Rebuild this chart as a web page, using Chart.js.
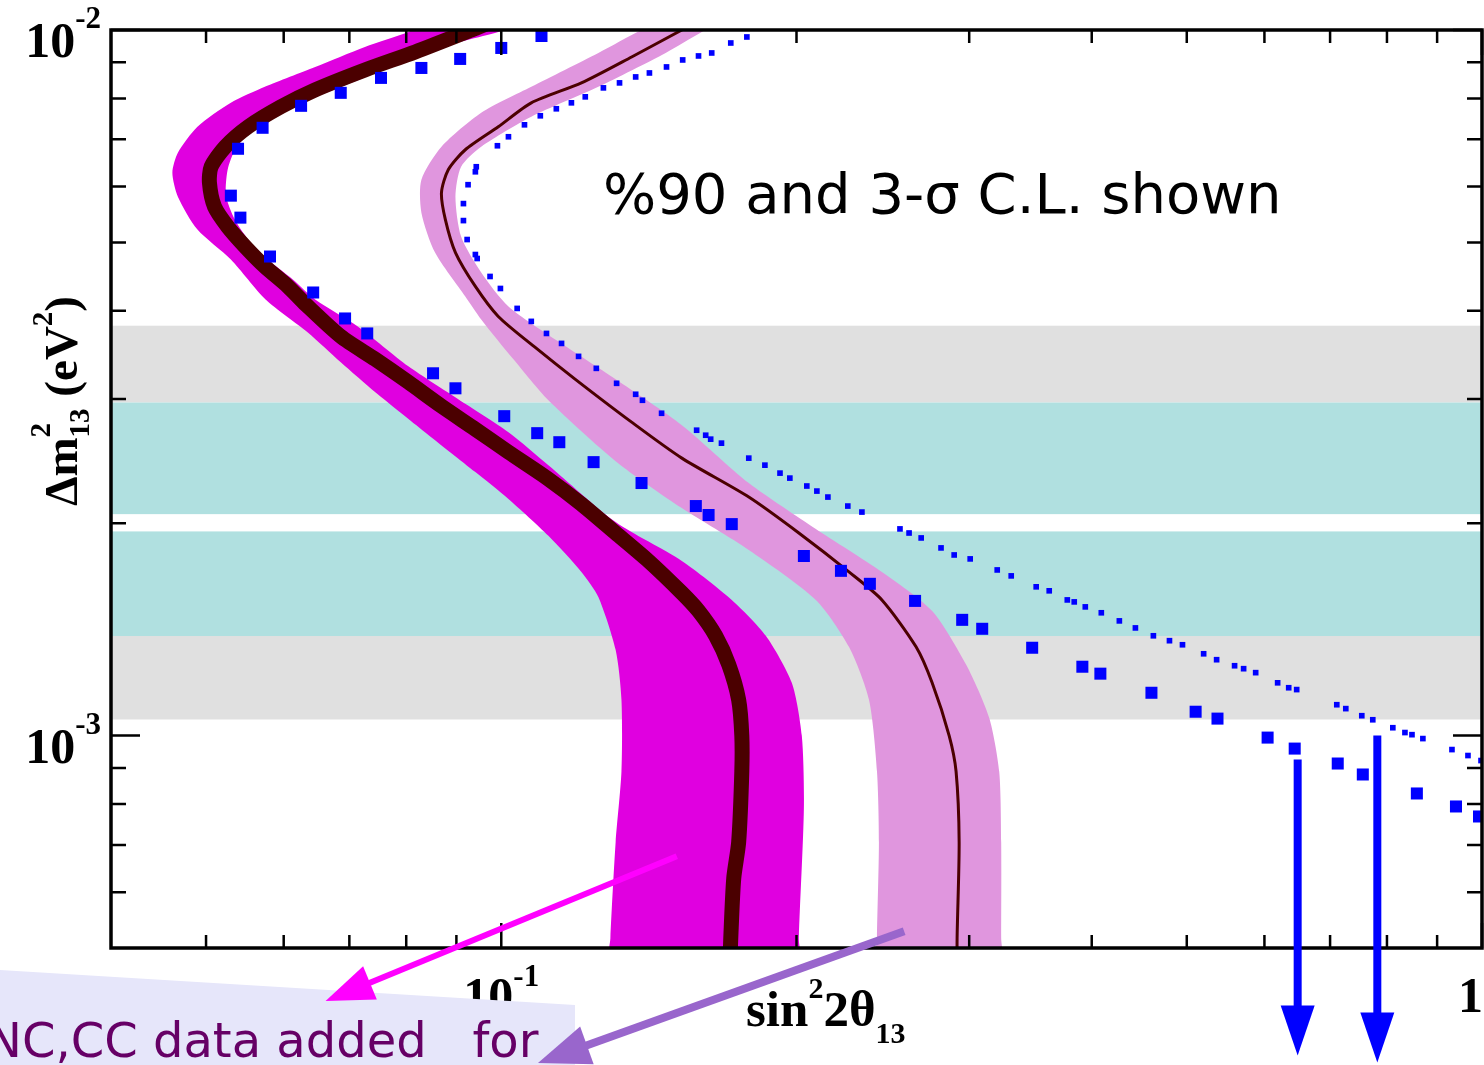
<!DOCTYPE html>
<html><head><meta charset="utf-8">
<script src="https://cdn.jsdelivr.net/npm/chart.js@4.4.0/dist/chart.umd.min.js"></script>
<style>html,body{margin:0;padding:0;background:#fff;overflow:hidden}canvas{display:block}</style>
</head><body><canvas id="c" width="1484" height="1065" style="width:1484px;height:1065px"></canvas>
<script>
// ---------- axis ranges & ticks ----------
const xRange = [0.04, 1];
const yRange = [5e-4, 1e-2];
const xMajorTicks = [0.1, 1];
const xMinorTicks = [0.05,0.06,0.07,0.08,0.09,0.2,0.3,0.4,0.5,0.6,0.7,0.8,0.9];
const yMajorTicks = [1e-3, 1e-2];
const yMinorTicks = [6e-4,7e-4,8e-4,9e-4,2e-3,3e-3,4e-3,5e-3,6e-3,7e-3,8e-3,9e-3];
const xTickLabels = [[0.1,'10','-1'],[1,'1','']];
const yTickLabels = [[1e-2,'10','-2'],[1e-3,'10','-3']];

// ---------- horizontal bands (Δm² ranges) ----------
const grayBands = [[2.965e-3,3.81e-3],[1.054e-3,1.384e-3]];
const cyanBands = [[2.06e-3,2.965e-3],[1.384e-3,1.947e-3]];

// ---------- 3-sigma region (magenta) & its best line ----------
const magentaOuter = [[0.0842,0.01026],[0.0804,0.009935],[0.0726,0.009461],[0.0646,0.008864],[0.0574,0.008307],[0.0530,0.007885],[0.0490,0.007292],[0.0468,0.006699],[0.0462,0.006276],[0.0468,0.005805],[0.0490,0.005213],[0.0530,0.004728],[0.0575,0.004151],[0.0635,0.003727],[0.0686,0.003381],[0.0744,0.003066],[0.0836,0.002692],[0.0941,0.002363],[0.1017,0.002164],[0.1117,0.001919],[0.1207,0.001706],[0.1256,0.001572],[0.1308,0.001323],[0.1326,0.001124],[0.1326,0.0008894],[0.1308,0.000706],[0.1292,0.0005162],[0.1289,0.00045]];
const magentaInner = [[0.1041,0.01016],[0.0993,0.009935],[0.0848,0.009369],[0.0723,0.008553],[0.0616,0.007808],[0.0561,0.007268],[0.0536,0.006787],[0.0526,0.006338],[0.0524,0.005824],[0.0535,0.005386],[0.0552,0.005047],[0.0578,0.004728],[0.0613,0.00443],[0.0646,0.004151],[0.0714,0.003801],[0.0804,0.003337],[0.0904,0.002997],[0.1017,0.002692],[0.1117,0.002417],[0.1308,0.002007],[0.1528,0.001768],[0.1718,0.001557],[0.1861,0.001385],[0.1978,0.001188],[0.2025,0.001],[0.2035,0.000791],[0.2011,0.0005162],[0.2011,0.00045]];
const magentaLine = [[0.0970,0.01023],[0.0932,0.0100],[0.0817,0.00931],[0.0726,0.008778],[0.0646,0.008226],[0.0596,0.007783],[0.0552,0.007292],[0.0523,0.006831],[0.0506,0.0064],[0.0504,0.006075],[0.0510,0.005619],[0.0526,0.005265],[0.0548,0.004933],[0.0574,0.004622],[0.0606,0.004331],[0.0632,0.004083],[0.0686,0.003679],[0.0744,0.003414],[0.0804,0.003168],[0.0869,0.00293],[0.0941,0.002718],[0.1017,0.002522],[0.1117,0.00231],[0.1207,0.002129],[0.1308,0.001937],[0.1413,0.001768],[0.1528,0.001593],[0.1589,0.001502],[0.1654,0.001385],[0.1706,0.00126],[0.1746,0.001124],[0.1759,0.001],[0.1759,0.0008894],[0.1746,0.000706],[0.1726,0.0006277],[0.1714,0.0005162],[0.1708,0.00045]];

// ---------- 90% region (light pink) & its best line ----------
const pinkOuter = [[0.1447,0.0102],[0.1390,0.0100],[0.1256,0.009278],[0.1073,0.008307],[0.0954,0.007632],[0.0869,0.006831],[0.0829,0.006135],[0.0829,0.00551],[0.0856,0.004837],[0.0919,0.004192],[0.0954,0.003889],[0.1029,0.003414],[0.1117,0.002987],[0.1308,0.002449],[0.1528,0.002101],[0.1788,0.001833],[0.2093,0.001557],[0.2262,0.001336],[0.2371,0.001124],[0.2416,0.0008894],[0.2427,0.000706],[0.2416,0.0005162],[0.2416,0.00045]];
const pinkInner = [[0.1647,0.01013],[0.1601,0.009935],[0.1471,0.009278],[0.1256,0.008307],[0.1073,0.007533],[0.0954,0.006831],[0.0910,0.0064],[0.0898,0.005805],[0.0910,0.005096],[0.0954,0.004532],[0.1017,0.004057],[0.1143,0.00362],[0.1308,0.003198],[0.1528,0.002754],[0.1788,0.00228],[0.2093,0.001963],[0.2444,0.001706],[0.2750,0.001502],[0.2979,0.00126],[0.3144,0.00106],[0.3219,0.0008894],[0.3234,0.000706],[0.3234,0.0005162],[0.3234,0.00045]];
const pinkLine = [[0.1553,0.0101],[0.1528,0.0100],[0.1358,0.009158],[0.1207,0.008415],[0.1073,0.007885],[0.0993,0.007292],[0.0919,0.006765],[0.0883,0.006338],[0.0869,0.005881],[0.0877,0.005386],[0.0898,0.004837],[0.0941,0.004331],[0.0993,0.003927],[0.1083,0.003549],[0.1190,0.003198],[0.1358,0.002781],[0.1528,0.002473],[0.1788,0.002178],[0.2011,0.001937],[0.2262,0.001706],[0.2444,0.001557],[0.2648,0.001336],[0.2750,0.001188],[0.2862,0.001],[0.2909,0.0008894],[0.2930,0.000706],[0.2916,0.0005162],[0.2916,0.00045]];

// ---------- blue square markers ----------
const squareX = [0.1099,0.1000,0.0908,0.0829,0.0754,0.0686,0.0625,0.0571,0.0539,0.0530,0.0542,0.0581,0.0643,0.0693,0.0730,0.0852,0.0898,0.1007,0.1088,0.1146,0.1242,0.1390,0.1579,0.1627,0.1718,0.2035,0.2220,0.2376,0.2642,0.2951,0.3093,0.3478,0.3913,0.4082,0.4602,0.5105,0.5374,0.6045,0.6442,0.7127,0.7559,0.8582,0.9407,0.9930];
const squareY = [9.806e-3,9.431e-3,9.099e-3,8.835e-3,8.553e-3,8.146e-3,7.808e-3,7.268e-3,6.787e-3,5.824e-3,5.421e-3,4.775e-3,4.246e-3,3.901e-3,3.715e-3,3.262e-3,3.106e-3,2.836e-3,2.683e-3,2.605e-3,2.441e-3,2.280e-3,2.115e-3,2.054e-3,1.994e-3,1.797e-3,1.712e-3,1.641e-3,1.552e-3,1.459e-3,1.417e-3,1.332e-3,1.252e-3,1.224e-3,1.150e-3,1.081e-3,1.057e-3,0.9935e-3,0.9585e-3,0.9129e-3,0.8808e-3,0.8279e-3,0.7935e-3,0.7680e-3];

// ---------- blue dotted markers ----------
const dotX = [0.1780,0.1714,0.1639,0.1589,0.1531,0.1474,0.1416,0.1371,0.1320,0.1271,0.1218,0.1179,0.1138,0.1096,0.1056,0.1017,0.0991,0.0943,0.0941,0.0925,0.0915,0.0915,0.0923,0.0941,0.0945,0.0974,0.0998,0.1038,0.1073,0.1112,0.1152,0.1199,0.1250,0.1311,0.1371,0.1393,0.1457,0.1582,0.1616,0.1635,0.1677,0.1788,0.1857,0.1924,0.1969,0.2049,0.2098,0.2153,0.2256,0.2332,0.2550,0.2605,0.2680,0.2808,0.2896,0.3007,0.3204,0.3311,0.3511,0.3620,0.3777,0.3839,0.3940,0.4091,0.4268,0.4432,0.4623,0.4801,0.4950,0.5202,0.5363,0.5594,0.5714,0.5878,0.6189,0.6352,0.6472,0.7111,0.7263,0.7541,0.7738,0.8111,0.8345,0.8484,0.8704,0.9319,0.9676,0.9977];
const dotY = [9.775e-3,9.585e-3,9.278e-3,9.188e-3,9.069e-3,8.864e-3,8.692e-3,8.580e-3,8.415e-3,8.279e-3,8.040e-3,7.885e-3,7.733e-3,7.558e-3,7.339e-3,7.058e-3,6.854e-3,6.400e-3,6.296e-3,6.036e-3,5.675e-3,5.369e-3,5.047e-3,4.806e-3,4.744e-3,4.474e-3,4.302e-3,4.031e-3,3.864e-3,3.715e-3,3.596e-3,3.447e-3,3.315e-3,3.157e-3,3.046e-3,2.987e-3,2.863e-3,2.709e-3,2.665e-3,2.631e-3,2.597e-3,2.473e-3,2.417e-3,2.355e-3,2.317e-3,2.258e-3,2.221e-3,2.178e-3,2.115e-3,2.074e-3,1.963e-3,1.937e-3,1.906e-3,1.845e-3,1.803e-3,1.780e-3,1.717e-3,1.684e-3,1.625e-3,1.604e-3,1.557e-3,1.547e-3,1.522e-3,1.493e-3,1.454e-3,1.421e-3,1.385e-3,1.363e-3,1.345e-3,1.306e-3,1.281e-3,1.256e-3,1.244e-3,1.228e-3,1.188e-3,1.169e-3,1.162e-3,1.106e-3,1.092e-3,1.067e-3,1.053e-3,1.026e-3,1.010e-3,1.003e-3,0.9903e-3,0.9554e-3,0.9370e-3,0.9218e-3];

// ---------- annotation arrows (data coordinates) ----------
const blueArrows = [[0.6487,9.25e-4,3.52e-4],[0.7821,1.0e-3,3.44e-4]]; // x, yStart, yTip
const magentaArrow = [0.1510,6.744e-4,0.0662,4.205e-4];
const purpleArrow = [0.2575,5.281e-4,0.1090,3.436e-4];

const toPts = a => a.map(p => ({x:p[0], y:p[1]}));
const zipPts = (xs, ys) => xs.map((x,i) => ({x, y: ys[i]}));
const poly = (outer, inner) => toPts(outer.concat(inner.slice().reverse()));

const SERIF = '"Liberation Serif", "Times New Roman", serif';

function rich(ctx, parts, x, y) {
  let cx = x;
  for (const [t, s, dy, noAdv] of parts) {
    ctx.font = `bold ${s}px ${SERIF}`;
    ctx.fillText(t, cx, y + dy);
    if (!noAdv) cx += ctx.measureText(t).width;
  }
  return cx - x;
}
function richWidth(ctx, parts) {
  let w = 0;
  for (const [t, s, dy, noAdv] of parts) { ctx.font = `bold ${s}px ${SERIF}`; if (!noAdv) w += ctx.measureText(t).width; }
  return w;
}
function arrow(ctx, x0, y0, x1, y1, color, shaftW, headLen, headW) {
  const a = Math.atan2(y1 - y0, x1 - x0);
  const bx = x1 - Math.cos(a) * headLen, by = y1 - Math.sin(a) * headLen;
  ctx.strokeStyle = color; ctx.lineWidth = shaftW; ctx.lineCap = 'butt';
  ctx.beginPath(); ctx.moveTo(x0, y0); ctx.lineTo(bx + Math.cos(a) * 2, by + Math.sin(a) * 2); ctx.stroke();
  ctx.fillStyle = color; ctx.beginPath();
  ctx.moveTo(x1, y1);
  ctx.lineTo(bx + Math.sin(a) * headW / 2, by - Math.cos(a) * headW / 2);
  ctx.lineTo(bx - Math.sin(a) * headW / 2, by + Math.cos(a) * headW / 2);
  ctx.closePath(); ctx.fill();
}

const decor = {
  id: 'decor',
  beforeDatasetsDraw(chart) {
    const {ctx, chartArea: ca, scales: {y}} = chart;
    ctx.save();
    const band = (r, c) => { const t = y.getPixelForValue(r[1]), b = y.getPixelForValue(r[0]); ctx.fillStyle = c; ctx.fillRect(ca.left, t, ca.right - ca.left, b - t); };
    grayBands.forEach(r => band(r, '#e0e0e0'));
    cyanBands.forEach(r => band(r, '#b0e0e0'));
    ctx.restore();
  },
  afterDatasetsDraw(chart) {
    const {ctx, chartArea: ca, scales: {x, y}} = chart;
    ctx.save();
    ctx.strokeStyle = '#000'; ctx.lineWidth = 2.5; ctx.lineCap = 'butt';
    ctx.beginPath();
    const xt = (v, len) => { const p = x.getPixelForValue(v); ctx.moveTo(p, ca.bottom); ctx.lineTo(p, ca.bottom - len); ctx.moveTo(p, ca.top); ctx.lineTo(p, ca.top + len); };
    const yt = (v, len) => { const p = y.getPixelForValue(v); ctx.moveTo(ca.left, p); ctx.lineTo(ca.left + len, p); ctx.moveTo(ca.right, p); ctx.lineTo(ca.right - len, p); };
    xMajorTicks.forEach(v => xt(v, 25)); xMinorTicks.forEach(v => xt(v, 13));
    yMajorTicks.forEach(v => yt(v, 29)); yMinorTicks.forEach(v => yt(v, 15));
    ctx.stroke();
    ctx.lineWidth = 3.5;
    ctx.strokeRect(ca.left, ca.top, ca.right - ca.left, ca.bottom - ca.top);
    ctx.restore();
  },
  afterDraw(chart) {
    const {ctx, chartArea: ca, scales: {x, y}, width: W} = chart;
    ctx.save();
    ctx.fillStyle = '#000'; ctx.textAlign = 'left'; ctx.textBaseline = 'alphabetic';
    // y tick labels
    for (const [v, b, e] of yTickLabels) {
      const p = y.getPixelForValue(v);
      const parts = [[b, 50, 0], [e, 31, -29]];
      const w = richWidth(ctx, parts);
      rich(ctx, parts, ca.left - 10 - w, p + 27);
    }
    // x tick labels
    for (const [v, b, e] of xTickLabels) {
      const p = x.getPixelForValue(v);
      const parts = e ? [[b, 50, 0], [e, 31, -26]] : [[b, 50, 0]];
      const w = richWidth(ctx, parts);
      let sx = p - w / 2; if (sx + w > W - 1) sx = W - 1 - w;
      rich(ctx, parts, sx, ca.bottom + 64);
    }
    // axis titles
    rich(ctx, [['sin', 51, 0], ['2', 30, -28], ['2θ', 51, 0], ['13', 30, 17]], 746, ca.bottom + 78);
    ctx.save();
    ctx.translate(77, 506); ctx.rotate(-Math.PI / 2);
    rich(ctx, [['Δm', 47, 0], ['2', 29, -27, true], ['13', 29, 12], [' (eV', 47, 0], ['2', 29, -25], [')', 47, 0]], 0, 0);
    ctx.restore();
    // note text
    ctx.font = '56px "DejaVu Sans", sans-serif';
    ctx.fillText('%90 and 3-σ C.L. shown', 603, 213);
    // lavender box
    ctx.fillStyle = '#e6e6fa';
    ctx.beginPath(); ctx.moveTo(0, 970); ctx.lineTo(575, 1005); ctx.lineTo(575, 1065); ctx.lineTo(0, 1065); ctx.closePath(); ctx.fill();
    ctx.fillStyle = '#660066';
    ctx.font = '48px "DejaVu Sans", sans-serif';
    ctx.fillText('NC,CC data added   for', -14, 1057);
    // arrows
    const X = v => x.getPixelForValue(v), Y = v => y.getPixelForValue(v);
    for (const [xv, y0, y1] of blueArrows) arrow(ctx, X(xv), Y(y0), X(xv), Y(y1), '#0000ff', 8, 50, 34);
    arrow(ctx, X(magentaArrow[0]), Y(magentaArrow[1]), X(magentaArrow[2]), Y(magentaArrow[3]), '#ff00ff', 6, 48, 36);
    arrow(ctx, X(purpleArrow[0]), Y(purpleArrow[1]), X(purpleArrow[2]), Y(purpleArrow[3]), '#9966cc', 8, 52, 40);
    ctx.restore();
  }
};

const lineBase = {pointRadius: 0, clip: 0, tension: 0.25, spanGaps: true};
new Chart(document.getElementById('c'), {
  type: 'line',
  data: {
    datasets: [
      {label: 'dots', data: zipPts(dotX, dotY), showLine: false, pointStyle: 'rect', pointRadius: 4, pointBackgroundColor: '#0000ff', pointBorderWidth: 0, clip: 0},
      {label: 'squares', data: zipPts(squareX, squareY), showLine: false, pointStyle: 'rect', pointRadius: 8.5, pointBackgroundColor: '#0000ff', pointBorderWidth: 0, clip: 0},
      {...lineBase, label: 'pinkLine', data: toPts(pinkLine), borderColor: '#4b0000', borderWidth: 3, fill: false},
      {...lineBase, label: 'pinkBand', data: poly(pinkOuter, pinkInner), borderWidth: 0, borderColor: 'rgba(0,0,0,0)', backgroundColor: '#e096de', fill: 'shape'},
      {...lineBase, label: 'magLine', data: toPts(magentaLine), borderColor: '#4b0000', borderWidth: 15, fill: false},
      {...lineBase, label: 'magBand', data: poly(magentaOuter, magentaInner), borderWidth: 0, borderColor: 'rgba(0,0,0,0)', backgroundColor: '#e000e0', fill: 'shape'}
    ]
  },
  options: {
    responsive: false, maintainAspectRatio: false, animation: false, devicePixelRatio: 1,
    layout: {autoPadding: false, padding: {left: 111, top: 30, right: 2, bottom: 117}},
    elements: {line: {capBezierPoints: false}},
    plugins: {legend: {display: false}, tooltip: {enabled: false}},
    scales: {
      x: {type: 'logarithmic', min: xRange[0], max: xRange[1], display: false},
      y: {type: 'logarithmic', min: yRange[0], max: yRange[1], display: false}
    }
  },
  plugins: [decor]
});
</script></body></html>
